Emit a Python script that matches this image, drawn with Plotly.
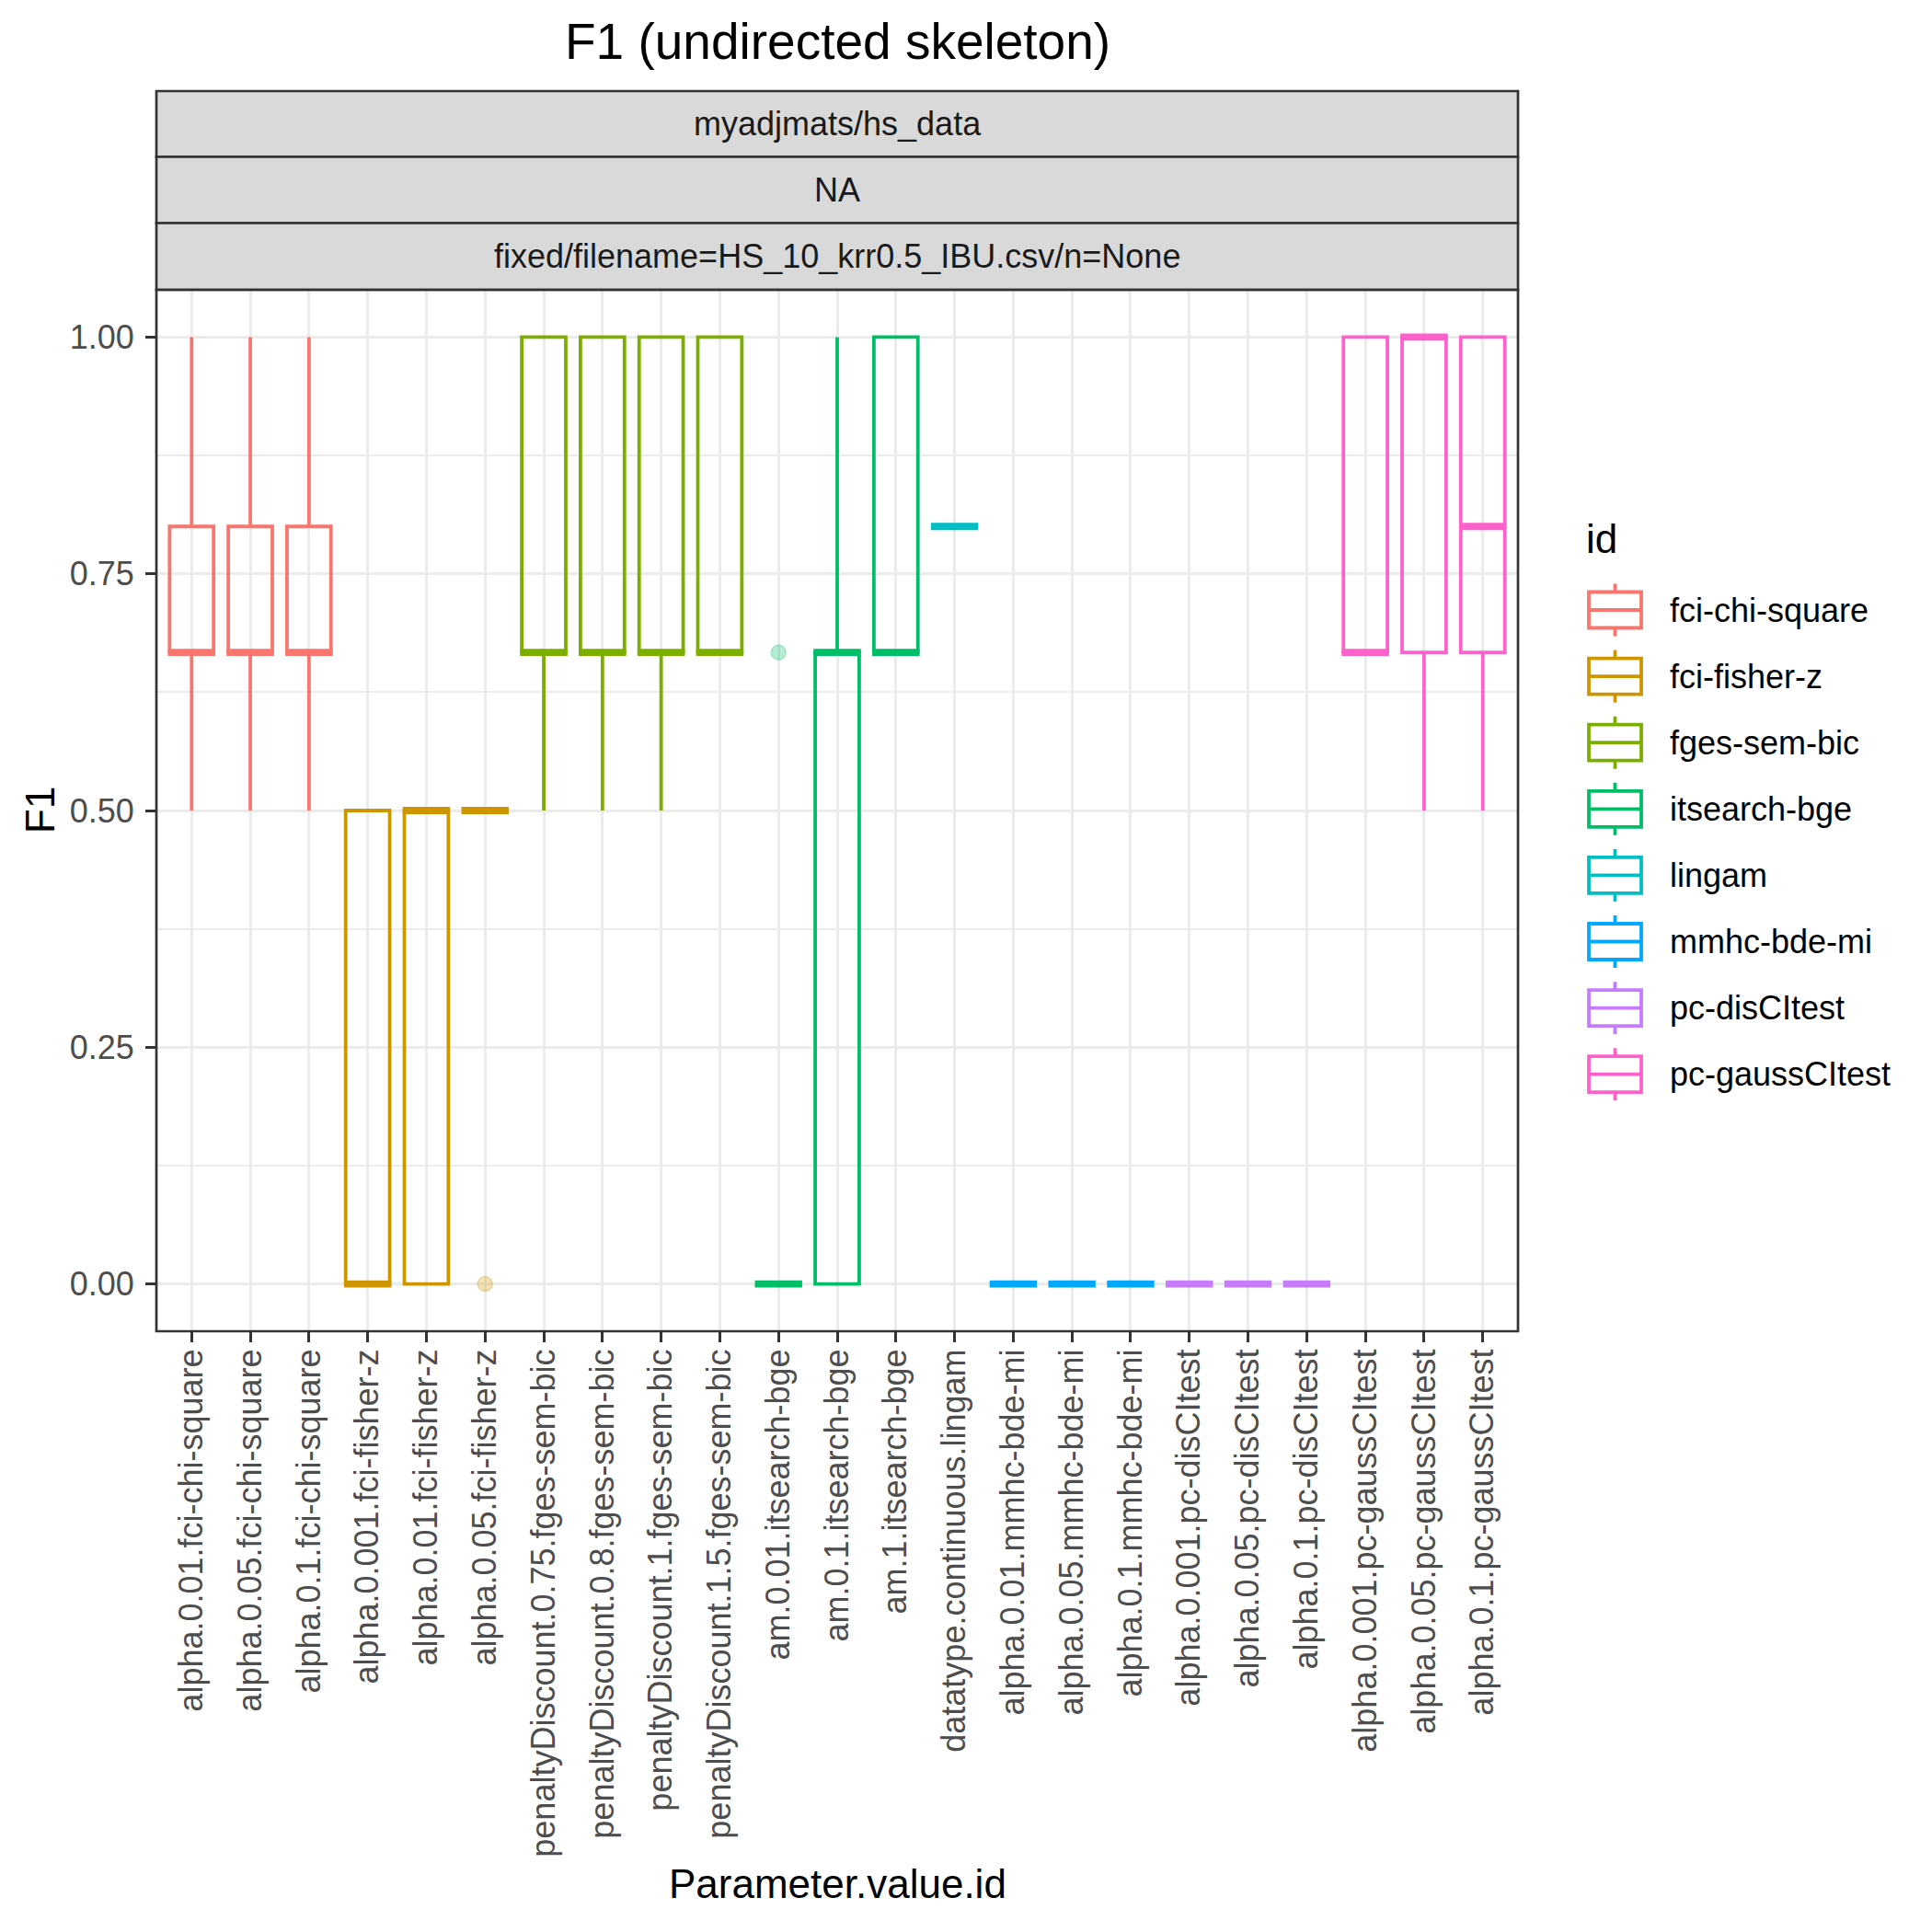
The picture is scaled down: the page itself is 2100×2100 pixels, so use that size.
import plotly.graph_objects as go

# ---------------- data ----------------
categories = [
    "alpha.0.01.fci-chi-square", "alpha.0.05.fci-chi-square", "alpha.0.1.fci-chi-square",
    "alpha.0.001.fci-fisher-z", "alpha.0.01.fci-fisher-z", "alpha.0.05.fci-fisher-z",
    "penaltyDiscount.0.75.fges-sem-bic", "penaltyDiscount.0.8.fges-sem-bic",
    "penaltyDiscount.1.fges-sem-bic", "penaltyDiscount.1.5.fges-sem-bic",
    "am.0.01.itsearch-bge", "am.0.1.itsearch-bge", "am.1.itsearch-bge",
    "datatype.continuous.lingam",
    "alpha.0.01.mmhc-bde-mi", "alpha.0.05.mmhc-bde-mi", "alpha.0.1.mmhc-bde-mi",
    "alpha.0.001.pc-disCItest", "alpha.0.05.pc-disCItest", "alpha.0.1.pc-disCItest",
    "alpha.0.001.pc-gaussCItest", "alpha.0.05.pc-gaussCItest", "alpha.0.1.pc-gaussCItest",
]
cat_id = [
    "fci-chi-square", "fci-chi-square", "fci-chi-square",
    "fci-fisher-z", "fci-fisher-z", "fci-fisher-z",
    "fges-sem-bic", "fges-sem-bic", "fges-sem-bic", "fges-sem-bic",
    "itsearch-bge", "itsearch-bge", "itsearch-bge",
    "lingam",
    "mmhc-bde-mi", "mmhc-bde-mi", "mmhc-bde-mi",
    "pc-disCItest", "pc-disCItest", "pc-disCItest",
    "pc-gaussCItest", "pc-gaussCItest", "pc-gaussCItest",
]
lower_whisker = [0.5, 0.5, 0.5, 0.0, 0.0, 0.5, 0.5, 0.5, 0.5, 0.667, 0.0, 0.0, 0.667, 0.8,
                 0.0, 0.0, 0.0, 0.0, 0.0, 0.0, 0.667, 0.5, 0.5]
q1 = [0.667, 0.667, 0.667, 0.0, 0.0, 0.5, 0.667, 0.667, 0.667, 0.667, 0.0, 0.0, 0.667, 0.8,
      0.0, 0.0, 0.0, 0.0, 0.0, 0.0, 0.667, 0.667, 0.667]
median = [0.667, 0.667, 0.667, 0.0, 0.5, 0.5, 0.667, 0.667, 0.667, 0.667, 0.0, 0.667, 0.667, 0.8,
          0.0, 0.0, 0.0, 0.0, 0.0, 0.0, 0.667, 1.0, 0.8]
q3 = [0.8, 0.8, 0.8, 0.5, 0.5, 0.5, 1.0, 1.0, 1.0, 1.0, 0.0, 0.667, 1.0, 0.8,
      0.0, 0.0, 0.0, 0.0, 0.0, 0.0, 1.0, 1.0, 1.0]
upper_whisker = [1.0, 1.0, 1.0, 0.5, 0.5, 0.5, 1.0, 1.0, 1.0, 1.0, 0.0, 1.0, 1.0, 0.8,
                 0.0, 0.0, 0.0, 0.0, 0.0, 0.0, 1.0, 1.0, 1.0]
outlier_category = ["alpha.0.05.fci-fisher-z", "am.0.01.itsearch-bge"]
outlier_value = [0.0, 0.667]

ids = ["fci-chi-square", "fci-fisher-z", "fges-sem-bic", "itsearch-bge",
       "lingam", "mmhc-bde-mi", "pc-disCItest", "pc-gaussCItest"]
colors = ["#F8766D", "#CD9600", "#7CAE00", "#00BE67",
          "#00BFC4", "#00A9FF", "#C77CFF", "#FF61CC"]

y_tickvals = [0, 0.25, 0.5, 0.75, 1.0]
y_ticktext = ["0.00", "0.25", "0.50", "0.75", "1.00"]
y_minor = [0.125, 0.375, 0.625, 0.875]

# ---------------- styling ----------------
FONT = "Liberation Sans, Arial, Helvetica, sans-serif"
BOX_W = 0.75
LINE_W = 3.8
MED_W = 7.8
PAGE = 2100
OFF = 8                                       # browser body margin
PL, PR, PT, PB = 170, 1650, 99, 1447          # panel incl. strips (page px)
STRIP_EDGES = [99, 170.5, 242.5, 315]
strip_texts = ["myadjmats/hs_data", "NA", "fixed/filename=HS_10_krr0.5_IBU.csv/n=None"]
TXT = 36


def py(pix):  # page pixel y -> paper y
    return (PB - pix) / (PB - PT)


def px(pix):
    return (pix - PL) / (PR - PL)


def rgba(hex_col, a):
    h = hex_col.lstrip("#")
    return "rgba(%d,%d,%d,%.2f)" % (int(h[0:2], 16), int(h[2:4], 16), int(h[4:6], 16), a)


fig = go.Figure()
xpos = list(range(len(categories)))
pad = 0.028
for gid, col in zip(ids, colors):
    idx = [i for i, c in enumerate(cat_id) if c == gid]
    fig.add_trace(go.Box(
        x=[xpos[i] for i in idx],
        q1=[q1[i] for i in idx],
        median=[median[i] for i in idx],
        q3=[q3[i] for i in idx],
        lowerfence=[lower_whisker[i] for i in idx],
        upperfence=[upper_whisker[i] for i in idx],
        name=gid, legendgroup=gid, showlegend=False,
        width=BOX_W, whiskerwidth=0,
        line=dict(color=col, width=LINE_W),
        fillcolor="rgba(0,0,0,0)",
        boxpoints=False, hoverinfo="skip",
    ))
    mx, my = [], []
    for i in idx:
        mx += [xpos[i] - BOX_W / 2 - pad, xpos[i] + BOX_W / 2 + pad, None]
        my += [median[i], median[i], None]
    fig.add_trace(go.Scatter(x=mx, y=my, mode="lines", line=dict(color=col, width=MED_W),
                             showlegend=False, legendgroup=gid, hoverinfo="skip"))
    ox = [categories.index(c) for c in outlier_category
          if cat_id[categories.index(c)] == gid]
    oy = [v for c, v in zip(outlier_category, outlier_value)
          if cat_id[categories.index(c)] == gid]
    if ox:
        fig.add_trace(go.Scatter(x=ox, y=oy, mode="markers",
                                 marker=dict(color=rgba(col, 0.28), size=16,
                                             line=dict(width=1.6, color=rgba(col, 0.28))),
                                 showlegend=False, legendgroup=gid, hoverinfo="skip"))

shapes = []
annotations = []
# strips
for k in range(3):
    shapes.append(dict(type="rect", xref="paper", yref="paper", x0=0, x1=1,
                       y0=py(STRIP_EDGES[k + 1]), y1=py(STRIP_EDGES[k]),
                       fillcolor="#D9D9D9", line=dict(color="#333333", width=2.7), layer="above"))
    annotations.append(dict(text=strip_texts[k], xref="paper", yref="paper", x=0.5,
                            y=py((STRIP_EDGES[k] + STRIP_EDGES[k + 1]) / 2),
                            showarrow=False, font=dict(size=TXT, color="#1A1A1A", family=FONT),
                            xanchor="center", yanchor="middle"))
# panel border
shapes.append(dict(type="rect", xref="paper", yref="paper", x0=0, x1=1, y0=0, y1=py(STRIP_EDGES[3]),
                   line=dict(color="#333333", width=2.7), layer="above"))

annotations.append(dict(text="F1 (undirected skeleton)", xref="paper", yref="paper",
                        x=0.5, y=py(45), showarrow=False, xanchor="center", yanchor="middle",
                        font=dict(size=55, color="black", family=FONT)))
annotations.append(dict(text="F1", xref="paper", yref="paper", x=px(43), y=py(881),
                        showarrow=False, textangle=-90, xanchor="center", yanchor="middle",
                        font=dict(size=44, color="black", family=FONT)))
annotations.append(dict(text="Parameter.value.id", xref="paper", yref="paper", x=0.5, y=py(2048),
                        showarrow=False, xanchor="center", yanchor="middle",
                        font=dict(size=44, color="black", family=FONT)))

# legend (ggplot-style boxplot keys)
LEG_X0, LEG_X1 = 1727, 1784
LEG_Y0, LEG_DY = 663, 72.1
KEY_H = 39
STUB = 9
annotations.append(dict(text="id", xref="paper", yref="paper", x=px(1722), y=py(585),
                        showarrow=False, xanchor="left", yanchor="middle",
                        font=dict(size=44, color="black", family=FONT)))
for k, (gid, col) in enumerate(zip(ids, colors)):
    cy = LEG_Y0 + k * LEG_DY
    cx = (LEG_X0 + LEG_X1) / 2
    ln = dict(color=col, width=LINE_W)
    shapes.append(dict(type="rect", xref="paper", yref="paper", x0=px(LEG_X0), x1=px(LEG_X1),
                       y0=py(cy + KEY_H / 2), y1=py(cy - KEY_H / 2), line=ln))
    shapes.append(dict(type="line", xref="paper", yref="paper", x0=px(LEG_X0), x1=px(LEG_X1),
                       y0=py(cy), y1=py(cy), line=ln))
    shapes.append(dict(type="line", xref="paper", yref="paper", x0=px(cx), x1=px(cx),
                       y0=py(cy - KEY_H / 2), y1=py(cy - KEY_H / 2 - STUB), line=ln))
    shapes.append(dict(type="line", xref="paper", yref="paper", x0=px(cx), x1=px(cx),
                       y0=py(cy + KEY_H / 2), y1=py(cy + KEY_H / 2 + STUB), line=ln))
    annotations.append(dict(text=gid, xref="paper", yref="paper", x=px(1813), y=py(cy),
                            showarrow=False, xanchor="left", yanchor="middle",
                            font=dict(size=TXT, color="black", family=FONT)))

fig.update_layout(
    width=PAGE - OFF, height=PAGE - OFF,
    margin=dict(l=PL - OFF, r=PAGE - PR, t=PT - OFF, b=PAGE - PB, pad=0),
    paper_bgcolor="white", plot_bgcolor="white",
    font=dict(family=FONT, color="black"),
    boxmode="overlay",
    shapes=shapes, annotations=annotations,
    showlegend=False,
    xaxis=dict(range=[-0.6, len(categories) - 0.4], tickmode="array",
               tickvals=xpos, ticktext=categories, tickangle=-90,
               tickfont=dict(size=TXT, color="#4D4D4D", family=FONT),
               ticks="outside", ticklen=11, tickwidth=3.2, tickcolor="#333333",
               ticklabelstandoff=-7,
               showgrid=True, gridcolor="#EBEBEB", gridwidth=3.2,
               zeroline=False, showline=False, fixedrange=True),
    yaxis=dict(range=[-0.05, 1.05], domain=[0, py(STRIP_EDGES[3])],
               tickmode="array", tickvals=y_tickvals, ticktext=y_ticktext,
               tickfont=dict(size=TXT, color="#4D4D4D", family=FONT),
               ticks="outside", ticklen=11, tickwidth=3.2, tickcolor="#333333",
               ticklabelstandoff=5,
               showgrid=True, gridcolor="#EBEBEB", gridwidth=3.2,
               minor=dict(tickvals=y_minor, showgrid=True,
                          gridcolor="#EBEBEB", gridwidth=1.6, ticks=""),
               zeroline=False, showline=False, fixedrange=True),
)

fig.write_html("out.html")
